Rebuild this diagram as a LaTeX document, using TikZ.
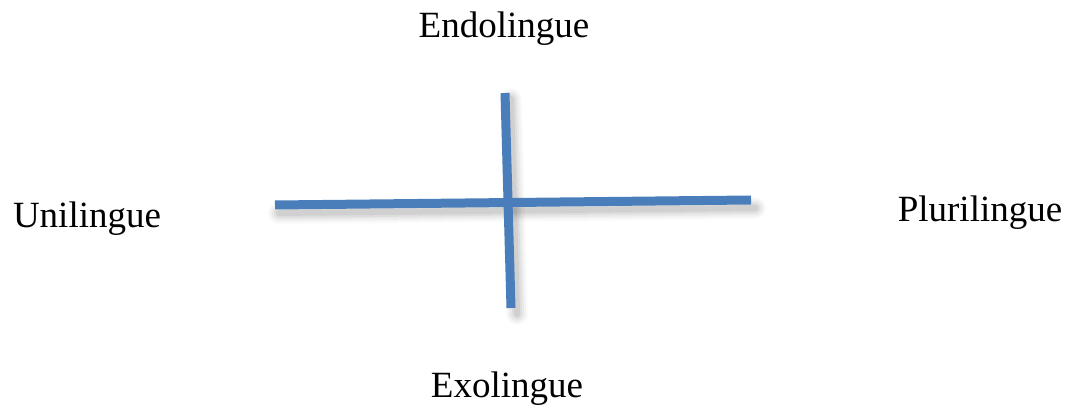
\documentclass[tikz,border=0pt]{standalone}
\usepackage{fontspec}
\setmainfont{Liberation Serif}
\begin{document}
\begin{tikzpicture}[x=1pt,y=1pt,
  lbl/.style={font=\fontsize{37}{40}\selectfont, anchor=base, inner sep=0pt},
  axis/.style={draw={rgb,255:red,74;green,126;blue,187}, line width=9pt},
  shd/.style={draw=black, line cap=round}]
\useasboundingbox (0,0) rectangle (1067,409);
% label nodes
\node[lbl] (endo) at (504,371) {Endolingue};
\node[lbl] (uni) at (87,181) {Unilingue};
\node[lbl] (pluri) at (980,187) {Plurilingue};
\node[lbl] (exo) at (507,11) {Exolingue};
% axis endpoints
\coordinate (hl) at (275,204);
\coordinate (hr) at (751,209);
\coordinate (vt) at (505,316);
\coordinate (vb) at (511,101);
% soft shadows
\foreach \w/\o in {22/0.02,18/0.03,14/0.04,10/0.05,6/0.06}{
  \draw[shd, line width=\w pt, opacity=\o] ([shift={(4,-8)}]hl) -- ([shift={(4,-8)}]hr);
  \draw[shd, line width=\w pt, opacity=\o] ([shift={(6,-6)}]vt) -- ([shift={(6,-6)}]vb);
}
% axes
\draw[axis] (hl) -- (hr);
\draw[axis] (vt) -- (vb);
\end{tikzpicture}
\end{document}
